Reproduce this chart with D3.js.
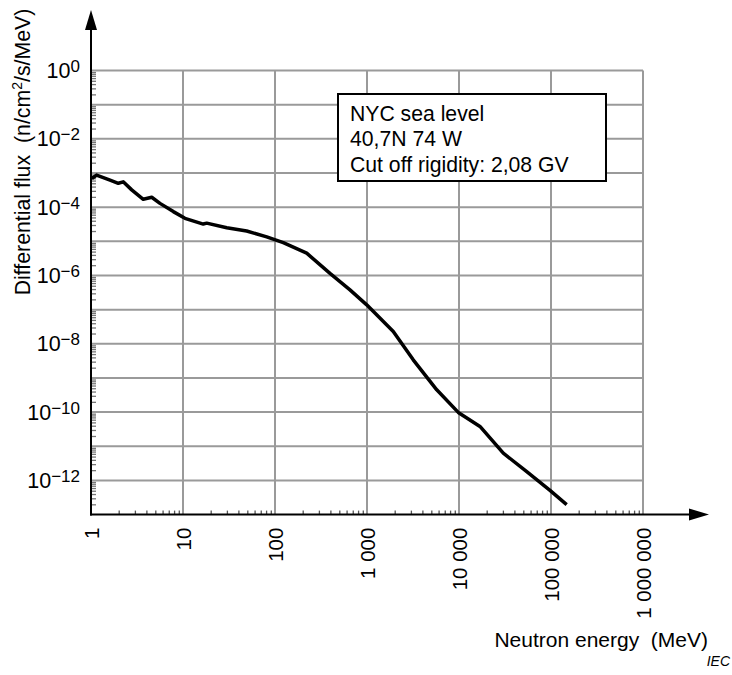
<!DOCTYPE html>
<html>
<head>
<meta charset="utf-8">
<script src="https://cdn.jsdelivr.net/npm/d3@7"></script>
<style>
  html, body { margin: 0; padding: 0; background: #fff; }
  svg { display: block; font-family: "Liberation Sans", Arial, sans-serif; }
  svg text { white-space: pre; }
</style>
</head>
<body>
<svg id="chart" width="732" height="675"></svg>
<script>
// ---- data ----
const energyMeV = [1.02, 1.15, 1.61, 1.98, 2.24, 2.77, 3.70, 4.57, 5.62, 7.85, 10.5, 16.6, 18.1, 29.9, 49.2, 81.3, 123, 221, 396, 653, 993, 1930, 3180, 5730, 9820, 16900, 30300, 54500, 97500, 148000];
const fluxValues = [6.9e-4, 8.7e-4, 6.2e-4, 5.0e-4, 5.5e-4, 3.2e-4, 1.7e-4, 1.95e-4, 1.29e-4, 7.4e-5, 4.7e-5, 3.2e-5, 3.4e-5, 2.5e-5, 2.0e-5, 1.35e-5, 9.1e-6, 4.5e-6, 1.15e-6, 3.8e-7, 1.38e-7, 2.3e-8, 3.4e-9, 4.5e-10, 9.8e-11, 3.8e-11, 6.3e-12, 1.8e-12, 5.1e-13, 1.95e-13];
const xTickValues = [1, 10, 100, 1000, 10000, 100000, 1000000];
const xTickLabels = ["1", "10", "100", "1 000", "10 000", "100 000", "1 000 000"];
const yTickExponents = [0, -2, -4, -6, -8, -10, -12];
const legendLines = ["NYC sea level", "40,7N 74 W", "Cut off rigidity: 2,08 GV"];
const xTitle = "Neutron energy  (MeV)";
const yTitle = "Differential flux  (n/cm";
const yTitleEnd = "/s/MeV)";

// ---- layout ----
const svg = d3.select("#chart");
const pLeft = 91, pRight = 643, pTop = 70.5, pBottom = 514.6;
const x = d3.scaleLog().domain([1, 1e6]).range([pLeft, pRight]);
const y = d3.scaleLog().domain([1e-13, 1]).range([pBottom, pTop]);
const gridColor = "#9a9a9a";

// grid
const decadesY = d3.range(-12, 1).map(e => Math.pow(10, e));
svg.append("g").selectAll("line").data(decadesY).join("line")
  .attr("x1", pLeft).attr("x2", pRight)
  .attr("y1", d => y(d)).attr("y2", d => y(d))
  .attr("stroke", gridColor).attr("stroke-width", 2);
svg.append("g").selectAll("line").data(xTickValues.slice(1)).join("line")
  .attr("x1", d => x(d)).attr("x2", d => x(d))
  .attr("y1", pTop).attr("y2", pBottom)
  .attr("stroke", gridColor).attr("stroke-width", 2);

// minor ticks
const minorX = [];
for (let e = 0; e < 6; e++) for (let m = 2; m <= 9; m++) minorX.push(m * Math.pow(10, e));
const minorY = [];
for (let e = -13; e < 0; e++) for (let m = 2; m <= 9; m++) minorY.push(m * Math.pow(10, e));

svg.append("g").attr("transform", `translate(0,${pBottom})`)
  .call(d3.axisBottom(x).tickValues(minorX).tickSize(-4).tickFormat(""))
  .call(g => g.select(".domain").remove())
  .call(g => g.selectAll("line").attr("stroke", "#555").attr("stroke-width", 1.3));
svg.append("g").attr("transform", `translate(${pLeft},0)`)
  .call(d3.axisLeft(y).tickValues(minorY).tickSize(-5).tickFormat(""))
  .call(g => g.select(".domain").remove())
  .call(g => g.selectAll("line").attr("stroke", "#777").attr("stroke-width", 1.3));

// curve
const pts = energyMeV.map((e, i) => [e, fluxValues[i]]);
svg.append("path").datum(pts)
  .attr("fill", "none").attr("stroke", "#000").attr("stroke-width", 3.5)
  .attr("stroke-linejoin", "round").attr("stroke-linecap", "butt")
  .attr("d", d3.line().x(d => x(d[0])).y(d => y(d[1])));

// axes lines with arrows
svg.append("line").attr("x1", pLeft).attr("x2", pLeft).attr("y1", pBottom + 1).attr("y2", 28)
  .attr("stroke", "#000").attr("stroke-width", 2);
svg.append("path").attr("d", `M${pLeft},10 L${pLeft-6},30 L${pLeft+6},30 Z`).attr("fill", "#000");
svg.append("line").attr("x1", pLeft - 1).attr("x2", 692).attr("y1", pBottom).attr("y2", pBottom)
  .attr("stroke", "#000").attr("stroke-width", 2);
svg.append("path").attr("d", `M709,${pBottom} L689,${pBottom-6} L689,${pBottom+6} Z`).attr("fill", "#000");

// x tick labels
const xAxisLabels = svg.append("g").attr("transform", `translate(0,${pBottom})`)
  .call(d3.axisBottom(x).tickValues(xTickValues).tickSize(0)
    .tickFormat((d, i) => xTickLabels[i]));
xAxisLabels.select(".domain").remove();
xAxisLabels.selectAll("text")
  .attr("font-size", 20.5).attr("font-family", "Liberation Sans, Arial, sans-serif")
  .attr("fill", "#000")
  .attr("text-anchor", "end")
  .attr("transform", "rotate(-90)")
  .attr("x", -13).attr("y", 0).attr("dy", "0.36em");

// y tick labels (10^n)
const yLab = svg.append("g").selectAll("text").data(yTickExponents).join("text")
  .attr("x", 80).attr("y", d => y(Math.pow(10, d)) + 7.5)
  .attr("text-anchor", "end").attr("font-size", 21.5).attr("fill", "#000");
yLab.append("tspan").text("10");
yLab.append("tspan").attr("font-size", 17).attr("dy", -6)
  .text(d => d === 0 ? "0" : "\u2212" + Math.abs(d));

// axis titles
const yt = svg.append("text").attr("transform", "translate(29.5,152) rotate(-90)")
  .attr("text-anchor", "middle").attr("font-size", 21.3).attr("fill", "#000");
yt.append("tspan").text(yTitle);
yt.append("tspan").attr("font-size", 14).attr("dy", -8).text("2");
yt.append("tspan").attr("dy", 8).text(yTitleEnd);

svg.append("text").attr("x", 708).attr("y", 647).attr("text-anchor", "end")
  .attr("font-size", 21).attr("fill", "#000").text(xTitle);
svg.append("text").attr("x", 730).attr("y", 666).attr("text-anchor", "end")
  .attr("font-size", 14).attr("font-style", "italic").attr("fill", "#000").text("IEC");

// legend box
svg.append("rect").attr("x", 338).attr("y", 94).attr("width", 268).attr("height", 87)
  .attr("fill", "#fff").attr("stroke", "#000").attr("stroke-width", 2);
svg.append("g").selectAll("text").data(legendLines).join("text")
  .attr("x", 350).attr("y", (d, i) => 120.5 + i * 25.5)
  .attr("font-size", 21.2).attr("fill", "#000").text(d => d);
</script>
</body>
</html>
